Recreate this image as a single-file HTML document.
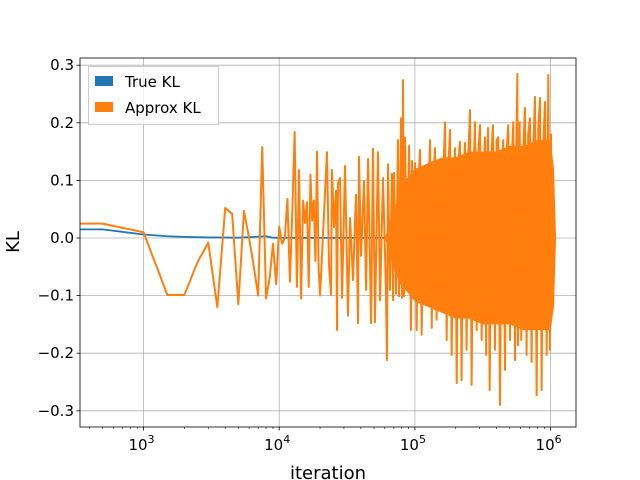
<!DOCTYPE html>
<html><head><meta charset="utf-8"><style>body{margin:0;background:#fff}svg{display:block;font-family:"DejaVu Sans","Liberation Sans",sans-serif}</style></head>
<body>
<svg id="chart" width="640" height="480" viewBox="0 0 640 480" xmlns="http://www.w3.org/2000/svg">
<g id="grid"></g>
<g id="plot"></g>
<g id="axes"></g>
<text x="328" y="479" font-size="18" text-anchor="middle">iteration</text>
<text x="19" y="242" font-size="18" text-anchor="middle" transform="rotate(-90 19 242)">KL</text>
<g>
<rect x="88.5" y="66.5" width="130" height="58" fill="#fff" fill-opacity="0.8" stroke="#ccc"/>
<rect x="95" y="76" width="18" height="10" fill="#1f77b4"/>
<text x="125" y="87" font-size="15">True KL</text>
<rect x="95" y="102" width="18" height="10" fill="#ff7f0e"/>
<text x="125" y="113" font-size="15">Approx KL</text>
</g>
</svg>
<script>
const trueIters=[340,500,1000,1500,2000,3000,5000,8000,9000,10000,1000000];
const trueVals=[0.015,0.015,0.006,0.003,0.002,0.001,0.0005,0.003,0.0005,0.0003,0.0001];
const approxIters=[340,500,1000,1500,2000,2500,3000,3500,4000,4500,5000,5500,6000,6500,7000,7500,8000,8500,9000,9500,10000,10500,11000,11500,12000,12500,13000,13500,14000,14500,15000,15500,16000,16500,17000,17500,18000,18500,19000,19500,20000];
const approxVals=[0.025,0.025,0.01,-0.099,-0.099,-0.042,-0.008,-0.12,0.052,0.042,-0.115,0.047,0.0,-0.05,-0.1,0.158,-0.105,-0.07,-0.01,-0.08,0.02,-0.01,0.0,0.068,-0.076,0.05,0.184,-0.085,0.118,-0.105,0.065,0.026,0.062,-0.085,0.11,0.03,0.065,-0.04,0.15,-0.05,-0.1];
const denseExp=[4.352,4.367,4.382,4.389,4.404,4.419,4.426,4.433,4.448,4.463,4.485,4.507,4.522,4.544,4.566,4.581,4.588,4.603,4.625,4.640,4.655,4.677,4.691,4.706,4.728,4.743,4.765,4.787,4.794,4.802,4.816,4.831,4.839,4.846,4.861,4.875,4.883,4.898,4.905,4.912,4.920,4.927,4.942,4.957,4.971,4.979,4.994,
5.001,5.013,5.025,5.038,5.050,5.062,5.075,5.087,5.099,5.112,5.124,5.136,5.148,5.160,5.172,5.185,5.197,5.209,5.222,5.234,5.246,5.259,5.271,5.283,5.296,5.308,5.320,5.332,5.344,5.356,5.369,5.381,5.393,5.406,5.418,5.430,5.443,5.455,5.467,5.480,5.492,5.504,5.517,5.525,5.533,5.539,5.551,5.563,5.575,5.590,5.602,5.614,5.627,5.639,5.651,5.664,5.676,5.688,5.701,5.713,5.725,5.738,5.748,5.755,5.760,5.772,5.784,5.796,5.811,5.823,5.835,5.848,5.860,5.872,5.885,5.897,5.909,5.922,5.934,5.946,5.959,5.971,5.983,5.995,6.003,6.010,6.018,6.026,6.034,6.040];
const denseVals=[0.149,-0.047,-0.099,0.118,0.019,0.082,-0.16,0.095,0.104,-0.104,0.125,-0.135,0.035,-0.073,0.075,-0.148,0.141,-0.031,0.099,-0.09,0.137,-0.148,0.155,-0.146,0.149,-0.108,0.104,-0.094,-0.212,0.128,-0.09,0.111,-0.108,0.113,-0.097,0.17,-0.101,0.208,-0.104,0.274,-0.101,0.174,-0.09,0.16,-0.16,0.134,-0.102,
0.130,-0.160,0.09,0.153,-0.168,0.05,0.115,-0.099,0.08,0.170,-0.156,0.10,0.156,-0.142,0.06,0.118,-0.125,0.11,0.201,-0.177,0.12,0.188,-0.203,0.07,0.156,-0.252,0.13,0.167,-0.247,0.09,0.165,-0.194,0.14,0.222,-0.255,0.10,0.201,-0.160,0.15,0.196,-0.177,0.11,0.175,-0.203,0.12,0.191,-0.264,0.14,0.196,-0.194,0.17,0.175,-0.290,0.12,0.170,-0.229,0.15,0.196,-0.177,0.13,0.201,-0.212,0.16,0.285,-0.186,0.201,-0.177,0.14,0.226,-0.203,0.18,0.208,-0.215,0.15,0.245,-0.273,0.19,0.243,-0.264,0.16,0.236,-0.203,0.283,-0.194,0.18,-0.12,0.0];
/* solid core band of the dense oscillation (envelope of overlapping lines) */
const coreExp=[4.780,4.816,4.860,4.890,4.930,5.000,5.100,5.200,5.300,5.400,5.500,5.600,5.700,5.800,5.900,6.000,6.025,6.040];
const coreTop=[0.0,0.03,0.06,0.09,0.10,0.12,0.13,0.14,0.14,0.15,0.15,0.15,0.16,0.16,0.17,0.17,0.12,0.0];
const coreBot=[0.0,-0.03,-0.06,-0.08,-0.09,-0.11,-0.12,-0.13,-0.14,-0.14,-0.15,-0.15,-0.15,-0.16,-0.16,-0.16,-0.12,0.0];
const yTicks=[-0.3,-0.2,-0.1,0.0,0.1,0.2,0.3];
const yTickLabels=["\u22120.3","\u22120.2","\u22120.1","0.0","0.1","0.2","0.3"];
const xDecades=[3,4,5,6];

const L=80,R=576,T=58,B=427;
const xs=e=>143.5+(e-3)*135.7;
const xi=it=>xs(Math.log10(it));
const ys=v=>238-v*576;
const NS="http://www.w3.org/2000/svg";
function mk(tag,attrs,parent){const el=document.createElementNS(NS,tag);for(const k in attrs)el.setAttribute(k,attrs[k]);parent.appendChild(el);return el;}
const grid=document.getElementById('grid'),plot=document.getElementById('plot'),axes=document.getElementById('axes');
yTicks.forEach((v,i)=>{
 const g=mk('line',{x1:L,x2:R,y1:ys(v),y2:ys(v),stroke:'#b0b0b0','stroke-width':0.8},grid);
 
 
 const t=mk('line',{x1:L-3.5,x2:L,y1:ys(v),y2:ys(v),stroke:'#000','stroke-width':0.8},axes);
 
 
 const tx=mk('text',{x:L-6,y:ys(v)+5,'font-size':15,'text-anchor':'end'},axes);
 tx.textContent=yTickLabels[i];
 
 
});
xDecades.forEach(d=>{
 const x=xs(d);
 const g=mk('line',{x1:x,x2:x,y1:T,y2:B,stroke:'#b0b0b0','stroke-width':0.8},grid);
 
 
 const t=mk('line',{x1:x,x2:x,y1:B,y2:B+3.5,stroke:'#000','stroke-width':0.8},axes);
 
 
 const tx=mk('text',{x:x-2,y:B+23,'font-size':15,'text-anchor':'middle'},axes);
 
 
 tx.appendChild(document.createTextNode('10'));
 const sp=mk('tspan',{dy:-7,'font-size':11},tx);sp.textContent=String(d);
});
for(let d=2;d<=6;d++){for(let m=2;m<=9;m++){const x=xs(d+Math.log10(m));if(x<L||x>R)continue;
 const t=mk('line',{x1:x,x2:x,y1:B,y2:B+2,stroke:'#000','stroke-width':0.6},axes);
 
 }}
const fr=mk('rect',{x:L,y:T,width:R-L,height:B-T,fill:'none',stroke:'#000','stroke-width':0.8},axes);


const tp=trueIters.map((it,i)=>xi(it).toFixed(2)+','+ys(trueVals[i]).toFixed(2));
const l1=mk('polyline',{points:tp.join(' '),fill:'none',stroke:'#1f77b4','stroke-width':1.8},plot);


const cp=coreExp.map((e,i)=>xs(e).toFixed(2)+','+ys(coreTop[i]).toFixed(2)).concat(coreExp.slice().reverse().map((e,j)=>{const i=coreExp.length-1-j;return xs(e).toFixed(2)+','+ys(coreBot[i]).toFixed(2);}));
const core=mk('polygon',{points:cp.join(' '),fill:'#ff7f0e',stroke:'none'},plot);


const ap=approxIters.map((it,i)=>xi(it).toFixed(2)+','+ys(approxVals[i]).toFixed(2)).concat(denseExp.map((e,i)=>xs(e).toFixed(2)+','+ys(denseVals[i]).toFixed(2)));
const l2=mk('polyline',{points:ap.join(' '),fill:'none',stroke:'#ff7f0e','stroke-width':2,'stroke-linejoin':'round'},plot);


</script>
</body></html>
